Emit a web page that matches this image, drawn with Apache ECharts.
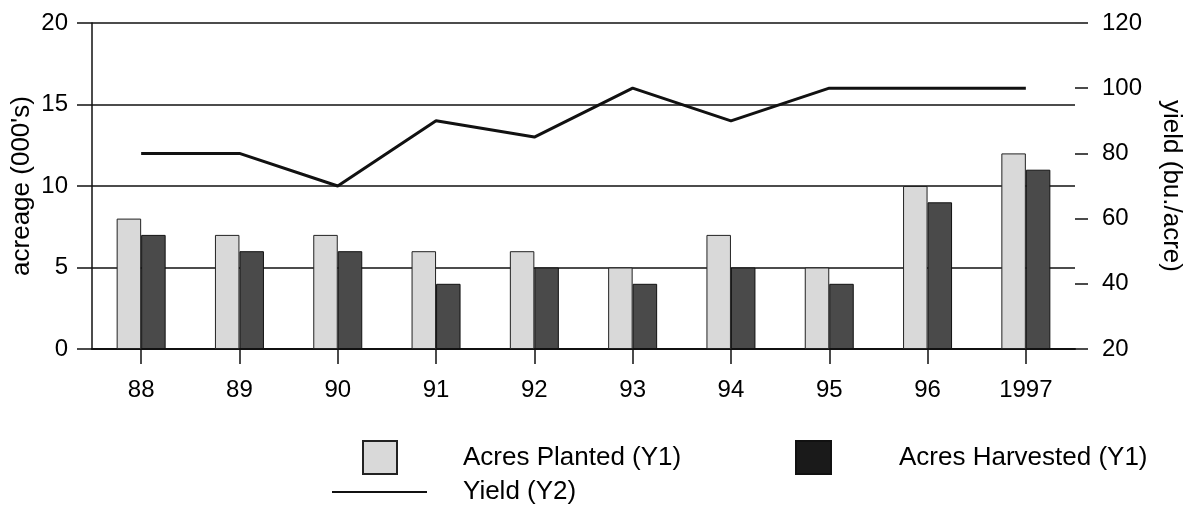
<!DOCTYPE html>
<html>
<head>
<meta charset="utf-8">
<script src="https://cdn.jsdelivr.net/npm/echarts@6/dist/echarts.min.js"></script>
<style>
html,body{margin:0;padding:0;background:#fff;}
#chart{width:1190px;height:506px;}
</style>
</head>
<body>
<div id="chart"></div>
<script>
// ---- data ----
const years = ['88', '89', '90', '91', '92', '93', '94', '95', '96', '1997'];
const acresPlanted = [8, 7, 7, 6, 6, 5, 7, 5, 10, 12];
const acresHarvested = [7, 6, 6, 4, 5, 4, 5, 4, 9, 11];
const yieldValues = [80, 80, 70, 90, 85, 100, 90, 100, 100, 100];
const leftTicks = [0, 5, 10, 15, 20];
const rightTicks = [20, 40, 60, 80, 100, 120];

const FONT = '"Liberation Sans", Arial, sans-serif';
const chart = echarts.init(document.getElementById('chart'), null, {renderer: 'canvas'});

chart.setOption({
  animation: false,
  backgroundColor: '#ffffff',
  textStyle: {fontFamily: FONT, color: '#000'},
  grid: {left: 92, right: 115, top: 23, bottom: 157, containLabel: false, outerBoundsMode: 'none'},
  legend: [
    {
      data: [{name: 'Acres Planted (Y1)', icon: 'rect'}], left: 362, top: 440, padding: 0,
      itemWidth: 34, itemHeight: 33,
      textStyle: {fontFamily: FONT, fontSize: 26, color: '#000', padding: [0, 0, 0, 61]}
    },
    {
      data: [{name: 'Acres Harvested (Y1)', icon: 'rect', itemStyle: {color: '#1a1a1a'}}], left: 795, top: 440, padding: 0,
      itemWidth: 35, itemHeight: 33,
      textStyle: {fontFamily: FONT, fontSize: 26, color: '#000', padding: [0, 0, 0, 63]}
    },
    {
      data: [{name: 'Yield (Y2)', icon: 'rect'}], left: 332, top: 479, padding: 0,
      itemWidth: 95, itemHeight: 2,
      textStyle: {fontFamily: FONT, fontSize: 26, color: '#000', padding: [0, 0, 0, 31]}
    }
  ],
  xAxis: {
    type: 'category',
    data: years,
    axisLine: {show: true, lineStyle: {color: '#111', width: 2}},
    axisTick: {show: true, alignWithLabel: true, length: 15, lineStyle: {color: '#111', width: 1.5}},
    axisLabel: {fontFamily: FONT, fontSize: 24, color: '#000', margin: 29},
    splitLine: {show: false}
  },
  yAxis: [
    {
      type: 'value', min: leftTicks[0], max: leftTicks[leftTicks.length - 1], interval: 5,
      name: "acreage (000's)", nameLocation: 'middle', nameGap: 57, nameRotate: 90,
      nameMoveOverlap: false,
      nameTextStyle: {fontFamily: FONT, fontSize: 26, color: '#000'},
      axisLine: {show: true, lineStyle: {color: '#111', width: 1.5}},
      axisTick: {show: true, inside: false, length: 15, lineStyle: {color: '#111', width: 1.5}},
      axisLabel: {fontFamily: FONT, fontSize: 24, color: '#000', margin: 24},
      splitLine: {show: true, lineStyle: {color: '#111', width: 1.5}}
    },
    {
      type: 'value', min: rightTicks[0], max: rightTicks[rightTicks.length - 1], interval: 20,
      position: 'right',
      name: 'yield (bu./acre)', nameLocation: 'middle', nameGap: 83, nameRotate: -90,
      nameMoveOverlap: false,
      nameTextStyle: {fontFamily: FONT, fontSize: 26, color: '#000'},
      axisLine: {show: false},
      axisTick: {show: true, inside: false, length: 13, lineStyle: {color: '#111', width: 1.5}},
      axisLabel: {fontFamily: FONT, fontSize: 24, color: '#000', margin: 27},
      splitLine: {show: false}
    }
  ],
  series: [
    {
      name: 'Acres Planted (Y1)', type: 'bar', yAxisIndex: 0, data: acresPlanted,
      barWidth: 24.5, barGap: '0%',
      itemStyle: {color: '#d9d9d9', borderColor: '#222', borderWidth: 1}
    },
    {
      name: 'Acres Harvested (Y1)', type: 'bar', yAxisIndex: 0, data: acresHarvested,
      barWidth: 24.5, barGap: '0%',
      itemStyle: {color: '#4a4a4a', borderColor: '#111', borderWidth: 1}
    },
    {
      name: 'Yield (Y2)', type: 'line', yAxisIndex: 1, data: yieldValues,
      showSymbol: false, symbol: 'none',
      lineStyle: {color: '#111', width: 3},
      itemStyle: {color: '#111'},
      z: 5
    }
  ]
});
</script>
</body>
</html>
